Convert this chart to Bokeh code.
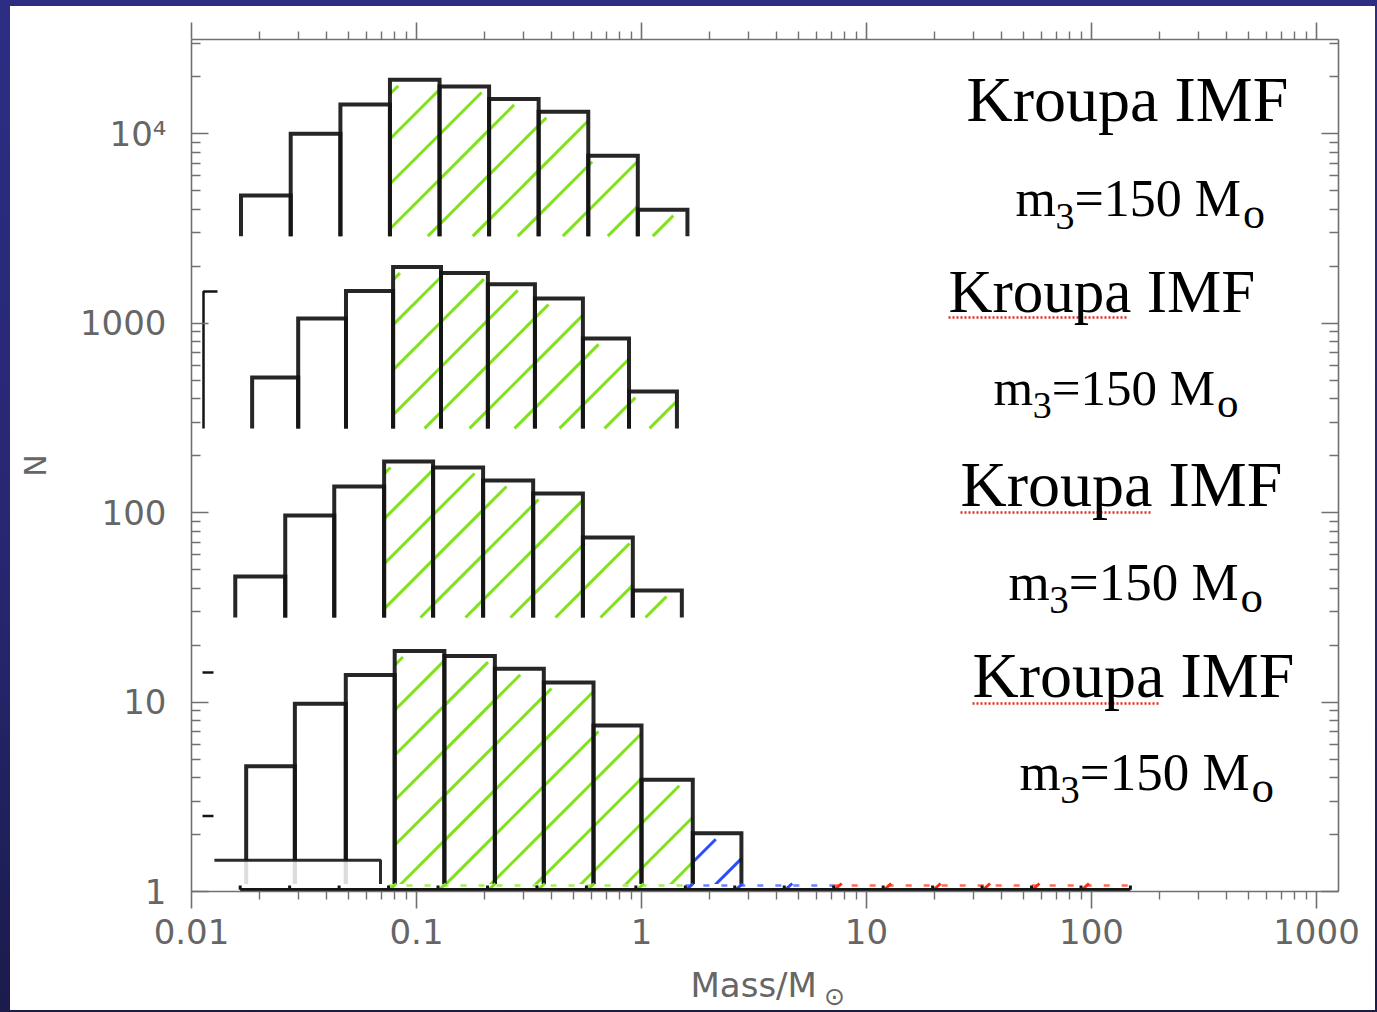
import math
from bokeh.plotting import figure
from bokeh.models import Label, FixedTicker, LogAxis, Range1d, CustomJSTickFormatter
from bokeh.core.properties import value
from bokeh.layouts import column
from bokeh.embed import file_html
from bokeh.resources import INLINE

# ---- stacked Kroupa IMF histograms (mass bins in Msun, counts N) ----
edges_a = [0.0166, 0.0276, 0.0459, 0.0762, 0.1266, 0.2102, 0.349, 0.580, 0.963, 1.60]
counts_a = [4730, 10010, 14300, 19300, 17800, 15300, 13100, 7670, 3980]
hatch_a = ["", "", "", "g", "g", "g", "g", "g", "g"]
floor_a = 2884

edges_b = [0.0186, 0.0298, 0.0486, 0.0787, 0.1285, 0.2076, 0.336, 0.549, 0.880, 1.437]
counts_b = [517, 1059, 1480, 1981, 1841, 1606, 1352, 832, 436]
hatch_b = ["", "", "", "g", "g", "g", "g", "g", "g"]
floor_b = 278.6

edges_c = [0.01565, 0.0261, 0.0431, 0.0718, 0.1185, 0.1977, 0.330, 0.549, 0.915, 1.511]
counts_c = [46.0, 96.7, 137.4, 186.3, 173.3, 147.9, 126.2, 74.0, 38.8]
hatch_c = ["", "", "", "g", "g", "g", "g", "g", "g"]
floor_c = 27.97

edges_d = [0.0175, 0.0288, 0.0485, 0.0800, 0.133, 0.223, 0.368, 0.612, 1.0, 1.69, 2.78]
counts_d = [4.59, 9.8, 13.9, 18.6, 17.5, 15.0, 12.7, 7.52, 3.89, 2.03]
hatch_d = ["", "", "", "g", "g", "g", "g", "g", "g", "b"]
floor_d = 1.0

# low-mass step drawn under the last histogram
low_left, low_right, low_count = 0.01264, 0.0692, 1.46

# thin strip of bins along N = 1 out to the upper mass limit
strip_edges = [0.01646, 0.0273, 0.0453, 0.0751, 0.1246, 0.2068, 0.3430, 0.569, 0.944,
               1.566, 2.597, 4.309, 7.147, 11.86, 19.67, 32.63, 54.1, 89.8, 148.9]
strip_class = ["", "", "", "g", "g", "g", "g", "g", "g",
               "b", "b", "b", "r", "r", "r", "r", "r", "r"]

x_ticks = [0.01, 0.1, 1, 10, 100, 1000]
y_ticks = [1, 10, 100, 1000, 10000]

HATCH = {"g": "#80e21a", "b": "#2b4dff", "r": "#ff2a10"}
INK = "#141414"
AXIS = "#707070"
LABEL = "#666666"
SANS = "DejaVu Sans ExtraLight, DejaVu Sans"

# page layout (pixels): plot frame edges
FX0, FX1, FY0, FY1 = 191, 1338, 39, 891
SX = 225.0          # px per decade on x
SY = 189.4          # px per decade on y
X_START = 0.01
X_END = 10 ** (-2 + (FX1 - FX0) / SX)
Y_END = 10 ** ((FY1 - FY0) / SY)


def px2x(px):
    return 10 ** (-2 + (px - FX0) / SX)


def py2y(py):
    return 10 ** ((FY1 - py) / SY)


P_TOP = 6
P_H = 960
p = figure(width=1365, height=P_H, x_axis_type="log", y_axis_type="log",
           x_range=Range1d(X_START, X_END), y_range=Range1d(1.0, Y_END),
           output_backend="svg", toolbar_location=None,
           min_border_left=FX0 - 10, min_border_right=1375 - FX1,
           min_border_top=FY0 - P_TOP, min_border_bottom=P_TOP + P_H - FY1,
           background_fill_color="white", border_fill_color="white", outline_line_color=None)
p.xgrid.visible = False
p.ygrid.visible = False

minor_x = [m * 10.0 ** k for k in range(-2, 3) for m in range(2, 10)]
minor_y = [m * 10.0 ** k for k in range(0, 5) for m in range(2, 10)]

x_fmt = CustomJSTickFormatter(code="""
const e = Math.round(Math.log10(tick));
return e < 0 ? Math.pow(10, e).toFixed(-e) : Math.pow(10, e).toFixed(0);
""")
y_fmt = CustomJSTickFormatter(code="""
const e = Math.round(Math.log10(tick));
return e >= 4 ? '10\u2074' : Math.pow(10, e).toFixed(0);
""")
blank = CustomJSTickFormatter(code="return '';")


def style_axis(ax, tick_in, tick_out, minor_in, minor_out):
    ax.axis_line_color = AXIS
    ax.axis_line_width = 1.6
    ax.major_tick_line_color = AXIS
    ax.minor_tick_line_color = AXIS
    ax.major_tick_line_width = 1.6
    ax.minor_tick_line_width = 1.4
    ax.major_tick_in = tick_in
    ax.major_tick_out = tick_out
    ax.minor_tick_in = minor_in
    ax.minor_tick_out = minor_out
    ax.major_label_text_font = SANS
    ax.major_label_text_font_size = "34px"
    ax.major_label_text_color = LABEL


xb = p.xaxis[0]
xb.ticker = FixedTicker(ticks=x_ticks, minor_ticks=minor_x)
xb.formatter = x_fmt
style_axis(xb, 0, 17, 0, 8)
xb.major_label_standoff = 10

yl = p.yaxis[0]
yl.ticker = FixedTicker(ticks=y_ticks, minor_ticks=minor_y)
yl.formatter = y_fmt
style_axis(yl, 17, 0, 9, 0)
yl.major_label_standoff = 25
yl.axis_label = "N"
yl.axis_label_text_font = SANS
yl.axis_label_text_font_size = "30px"
yl.axis_label_text_font_style = "normal"
yl.axis_label_text_color = LABEL
yl.axis_label_standoff = 24

xt = LogAxis(ticker=FixedTicker(ticks=x_ticks, minor_ticks=minor_x), formatter=blank)
style_axis(xt, 0, 17, 0, 8)
p.add_layout(xt, "above")
yr = LogAxis(ticker=FixedTicker(ticks=y_ticks, minor_ticks=minor_y), formatter=blank)
style_axis(yr, 17, 0, 9, 0)
p.add_layout(yr, "right")


def hatch_lines(edges, counts, hatch, floor, cls, offset, step=45.0, top_gap=6.0):
    """45-degree hatch strokes (in screen space) clipped to the marked bins."""
    c_shift = FY1 + FX0 + 2 * SX  # page-space x+y of the line v = u
    phase = (c_shift - offset) % step
    x0s, y0s, x1s, y1s = [], [], [], []
    for i, h in enumerate(hatch):
        if h != cls:
            continue
        u0, u1 = math.log10(edges[i]) * SX, math.log10(edges[i + 1]) * SX
        v0, v1 = math.log10(floor) * SY, math.log10(counts[i]) * SY - top_gap
        k0 = math.ceil((v0 - u1 - phase) / step)
        k1 = math.floor((v1 - u0 - phase) / step)
        for k in range(k0, k1 + 1):
            c = phase + k * step
            a, b = max(u0, v0 - c), min(u1, v1 - c)
            if b > a:
                x0s.append(10 ** (a / SX)); y0s.append(10 ** ((a + c) / SY))
                x1s.append(10 ** (b / SX)); y1s.append(10 ** ((b + c) / SY))
    if x0s:
        p.segment(x0=x0s, y0=y0s, x1=x1s, y1=y1s, line_color=HATCH[cls], line_width=3)


def histogram(edges, counts, hatch, floor, offset):
    for cls in ("g", "b"):
        hatch_lines(edges, counts, hatch, floor, cls, offset)
    xs = [[edges[i], edges[i], edges[i + 1], edges[i + 1]] for i in range(len(counts))]
    ys = [[floor, c, c, floor] for c in counts]
    p.multi_line(xs, ys, line_color=INK, line_width=4, line_join="miter", line_alpha=0.92)


histogram(edges_a, counts_a, hatch_a, floor_a, 33)
histogram(edges_b, counts_b, hatch_b, floor_b, 42)
histogram(edges_c, counts_c, hatch_c, floor_c, 2)
histogram(edges_d, counts_d, hatch_d, floor_d, 24)

# faded region under the low-mass step
p.quad(left=[low_left], right=[low_right], bottom=[1.0], top=[low_count],
       fill_color="white", fill_alpha=0.85, line_color=None)
p.multi_line([[low_left, low_right, low_right]], [[low_count, low_count, 1.0]],
             line_color=INK, line_width=3, line_alpha=0.9)

# strip along N = 1
strip_top = 10 ** (7.5 / SY)
p.quad(left=[strip_edges[0] * 0.96], right=[strip_edges[-1] * 1.02], bottom=[1.0], top=[strip_top],
       fill_color="white", line_color=None)
dash_y = 10 ** (6 / SY)
for cls in ("g", "b", "r"):
    idx = [i for i, c in enumerate(strip_class) if c == cls]
    p.line(x=[strip_edges[idx[0]], strip_edges[idx[-1] + 1]], y=[dash_y, dash_y],
           line_color=HATCH[cls], line_width=2.5, line_dash="6 12", line_alpha=0.7)
    p.segment(x0=[strip_edges[i] * 10 ** (-1 / SX) for i in idx], y0=[1.0] * len(idx),
              x1=[strip_edges[i] * 10 ** (8 / SX) for i in idx], y1=[10 ** (8 / SY)] * len(idx),
              line_color=HATCH[cls], line_width=3)
base_y = 10 ** (1.8 / SY)
p.segment(x0=strip_edges, y0=[base_y] * len(strip_edges), x1=strip_edges,
          y1=[10 ** (6 / SY)] * len(strip_edges), line_color=INK, line_width=3)
p.line(x=[strip_edges[0], strip_edges[-1]], y=[base_y, base_y], line_color=INK, line_width=3.5)

# corners of the inset frames along the left edge
p.multi_line([[px2x(217), px2x(203), px2x(203)], [px2x(202), px2x(213)], [px2x(202), px2x(213)]],
             [[py2y(291), py2y(291), py2y(428)], [py2y(672)] * 2, [py2y(815.5)] * 2],
             line_color=INK, line_width=2.5)

# ---- panel captions ----
SERIF = "Liberation Serif"
BASE_FIX = 0.36  # lifts labels so their baseline sits at the requested pixel row


def put(text, x_px, base_px, size, font=SERIF, color="black"):
    p.add_layout(Label(x=px2x(x_px), y=py2y(base_px - BASE_FIX * size), text=text,
                       text_font=font, text_font_size=f"{size}px", text_color=color,
                       text_baseline="alphabetic", text_align="left"))


def caption(x_px, base_px, size):
    put("Kroupa IMF", x_px, base_px, size)


def mass_line(x_px, base_px, size):
    s3 = round(size * 0.74)
    so = round(size * 0.84)
    put("m", x_px, base_px, size)
    put("3", x_px + size * 0.77, base_px + size * 0.24, s3)
    put("=150 M", x_px + size * 0.77 + s3 * 0.5, base_px, size)
    put("o", x_px + size * 0.77 + s3 * 0.5 + size * 3.24, base_px + size * 0.22, so)


def squiggle(x0_px, x1_px, y_px):
    p.line(x=[px2x(x0_px), px2x(x1_px)], y=[py2y(y_px)] * 2, line_color="#e8281e",
           line_width=2.5, line_dash="2 2")


caption(966, 122, 64)
mass_line(1015, 217, 52)
caption(948, 313, 61)
mass_line(993, 406, 51)
caption(960, 507, 64)
mass_line(1008, 601, 53)
caption(972, 698, 64)
mass_line(1019, 791, 53)
squiggle(948, 1128, 317)
squiggle(960, 1150, 512)
squiggle(972, 1160, 703)

# ---- x-axis title strip (frame shares the main plot's horizontal extent) ----
Q_BOTTOM = 1010
q_h = Q_BOTTOM - (P_TOP + P_H)
q = figure(width=1365, height=q_h, x_range=Range1d(FX0, FX1), y_range=Range1d(0, q_h),
           output_backend="svg", toolbar_location=None, min_border=0,
           background_fill_color="white", border_fill_color="white", outline_line_color=None)
q.axis.visible = False
q.grid.visible = False
q.text(x=[690], y=[Q_BOTTOM - 997 + 0.36 * 34], text=["Mass/M"], text_font=value(SANS),
       text_font_size="34px", text_color=LABEL, text_baseline="alphabetic")
q.text(x=[834], y=[Q_BOTTOM - 996], text=["\u2299"], text_font=value("DejaVu Sans"),
       text_font_size="25px", text_color=LABEL, text_baseline="middle", text_align="center")

sheet = column(p, q, spacing=0, styles={"background-color": "white"})
sheet.margin = (P_TOP, 2, 2, 10)
page = column(sheet, width=1377, height=1012,
              styles={"background": "linear-gradient(180deg, #2d2d84 0%, #26266f 60%, #1b1b4c 100%)"})

open("out.html", "w").write(file_html(page, INLINE))
